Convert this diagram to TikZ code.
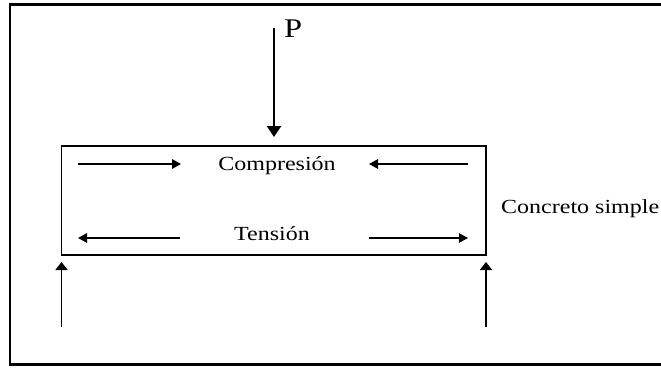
\documentclass[tikz,border=0pt]{standalone}
\usepackage{fontspec}
\setmainfont{Liberation Serif}[FakeStretch=1.2]
\usetikzlibrary{arrows.meta}
\begin{document}
\begin{tikzpicture}[x=1pt,y=-1pt,
  force/.style={line width=1.5pt,-{Triangle[length=9pt,width=9.5pt]}},
  load/.style={line width=2.4pt,-{Triangle[length=11pt,width=14pt]}},
  support/.style={line width=1.5pt,-{Triangle[length=8pt,width=12pt]}},
  lbl/.style={font=\fontsize{20}{24}\selectfont,inner sep=0pt}]
\clip (0,0) rectangle (661,367);
\fill[white] (0,0) rectangle (661,367);
% outer frame (right side beyond the picture)
\draw[line width=2.4pt] (10,4.5) rectangle (680,364.5);
% beam
\draw[line width=1.5pt] (61.5,146) rectangle (486,255);
% load P
\coordinate (p0) at (274,28);
\coordinate (p1) at (274,137);
\draw[load] (p0) -- (p1);
\node[lbl,font=\fontsize{27}{30}\selectfont,anchor=base west] (P) at (284,37) {P};
% compression
\node[lbl,anchor=base] (comp) at (277,170) {Compresión};
\coordinate (c1a) at (78,164); \coordinate (c1b) at (181,164);
\coordinate (c2a) at (468,164); \coordinate (c2b) at (369,164);
\draw[force] (c1a) -- (c1b);
\draw[force] (c2a) -- (c2b);
% tension
\node[lbl,anchor=base] (tens) at (272,240) {Tensión};
\coordinate (t1a) at (180,238); \coordinate (t1b) at (78,238);
\coordinate (t2a) at (369,238); \coordinate (t2b) at (468,238);
\draw[force] (t1a) -- (t1b);
\draw[force] (t2a) -- (t2b);
% label
\node[lbl,anchor=base west] (conc) at (501,213) {Concreto simple};
% supports
\coordinate (s1a) at (61.5,327); \coordinate (s1b) at (61.5,262);
\coordinate (s2a) at (486,327); \coordinate (s2b) at (486,262);
\draw[support] (s1a) -- (s1b);
\draw[support] (s2a) -- (s2b);
\end{tikzpicture}
\end{document}
